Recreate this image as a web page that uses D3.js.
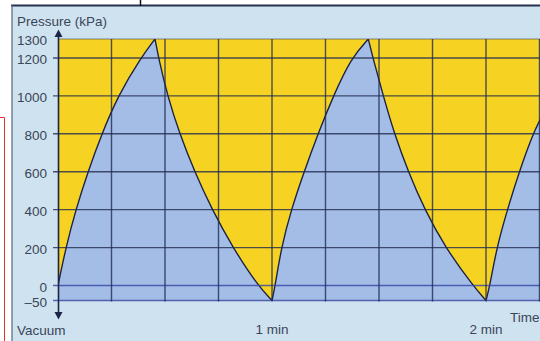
<!DOCTYPE html>
<html><head><meta charset="utf-8">
<script src="https://cdn.jsdelivr.net/npm/d3@7"></script>
<style>html,body{margin:0;padding:0;background:#fff;overflow:hidden}</style>
</head><body><svg id="c" width="540" height="341"></svg>
<script>
// ---- data ----
const timeSec = [0, 2.2, 5.0, 8.4, 12.3, 16.8, 23.2, 27.2,
  28.2, 30.7, 34.1, 38.3, 43.2, 49.0, 56.0, 60,
  60.9, 62.6, 65.4, 69.0, 72.9, 77.2, 82.2, 87.0,
  88.3, 91.2, 94.3, 98.2, 102.8, 108.6, 116.3, 120,
  121.1, 123.0, 126.0, 129.3, 133.2, 135.1, 137.3];
const pressureKPa = [0, 200, 400, 600, 800, 1000, 1200, 1300,
  1200, 1000, 800, 600, 400, 200, 0, -50,
  0, 200, 400, 600, 800, 1000, 1200, 1300,
  1200, 1000, 800, 600, 400, 200, 0, -50,
  0, 200, 400, 600, 800, 873, 950];
const yTicks = [-50, 0, 200, 400, 600, 800, 1000, 1200, 1300];
const yTickLabels = ["–50", "0", "200", "400", "600", "800", "1000", "1200", "1300"];
const xGridSec = [15, 30, 45, 60, 75, 90, 105, 120, 135];
const xLabelTimes = [60, 120];
const xLabelTexts = ["1 min", "2 min"];

// ---- layout ----
const W = 540, H = 341;
const L = 58, R = 540, T = 39, B = 300.5;
const svg = d3.select("#c");
const x = d3.scaleLinear().domain([0, 120]).range([L, 486]);
const y = d3.scaleLinear().domain([-50, 0, 1300]).range([B, 285.5, T]);
const font = "'Liberation Sans', Arial, sans-serif";
const textCol = "#3a4558";

// page background / frame
svg.append("rect").attr("x", 12).attr("y", 6).attr("width", W - 12).attr("height", H - 6).attr("fill", "#cfe2ef");
svg.append("line").attr("x1", 11).attr("x2", W).attr("y1", 5.5).attr("y2", 5.5).attr("stroke", "#27304d").attr("stroke-width", 2);
svg.append("line").attr("x1", 12).attr("x2", 12).attr("y1", 5).attr("y2", H).attr("stroke", "#55657e").attr("stroke-width", 1.2);
svg.append("line").attr("x1", 140.5).attr("x2", 140.5).attr("y1", 0).attr("y2", 6).attr("stroke", "#111").attr("stroke-width", 1.5);
svg.append("path").attr("d", "M0,117.5H4.5V341").attr("fill", "none").attr("stroke", "#e03030").attr("stroke-width", 1);

// clip
svg.append("clipPath").attr("id", "plot").append("rect")
  .attr("x", L).attr("y", T).attr("width", R - L).attr("height", B - T);

const g = svg.append("g").attr("clip-path", "url(#plot)");
g.append("rect").attr("x", L).attr("y", T).attr("width", R - L).attr("height", B - T).attr("fill", "#f6d322");

// split into monotone segments at peaks/troughs
const pts = timeSec.map((t, i) => [t, pressureKPa[i]]);
const segs = []; let start = 0;
for (let i = 1; i < pts.length - 1; i++) {
  const d1 = pts[i][1] - pts[i - 1][1], d2 = pts[i + 1][1] - pts[i][1];
  if (d1 * d2 < 0) { segs.push(pts.slice(start, i + 1)); start = i; }
}
segs.push(pts.slice(start));
const line = d3.line().x(d => x(d[0])).y(d => y(d[1])).curve(d3.curveBasis);
const curvePath = segs.map((s, i) => { const p = line(s); return i ? p.replace(/^M/, "L") : p; }).join("");
const tLast = timeSec[timeSec.length - 1];
g.append("path")
  .attr("d", curvePath + `L${x(tLast)},${y(-50)}L${x(0)},${y(-50)}Z`)
  .attr("fill", "#a3bde6");

// grid
const grid = svg.append("g");
grid.selectAll("line.h").data(yTicks).join("line")
  .attr("x1", d => d === 1300 ? L : 53).attr("x2", R)
  .attr("y1", d => y(d)).attr("y2", d => y(d))
  .attr("stroke", d => (d === 0 || d === -50) ? "#3545a5" : "#222a50")
  .attr("stroke-opacity", d => d === 1300 ? 0.35 : 0.8)
  .attr("stroke-width", 1.4);
grid.selectAll("line.v").data(xGridSec).join("line")
  .attr("x1", d => x(d)).attr("x2", d => x(d))
  .attr("y1", T).attr("y2", B + 1)
  .attr("stroke", "#222a50").attr("stroke-opacity", 0.8).attr("stroke-width", 1.4);

// curve
g.append("path").attr("d", curvePath).attr("fill", "none")
  .attr("stroke", "#1c2447").attr("stroke-width", 1.4).attr("stroke-linejoin", "miter");

// axis with arrows
svg.append("line").attr("x1", L + 0.5).attr("x2", L + 0.5).attr("y1", 33).attr("y2", 316)
  .attr("stroke", "#1c2447").attr("stroke-width", 1.6);
svg.append("path").attr("d", `M${L + 0.5},29.5L${L - 3.5},37L${L + 4.5},37Z`).attr("fill", "#1c2447");
svg.append("path").attr("d", `M${L + 0.5},319.5L${L - 3.5},312L${L + 4.5},312Z`).attr("fill", "#1c2447");

// labels
const lab = svg.append("g").attr("font-family", font).attr("font-size", 13.5).attr("fill", textCol);
lab.selectAll("text.y").data(yTicks).join("text")
  .attr("x", 47).attr("y", d => y(d) + 6).attr("text-anchor", "end")
  .text((d, i) => yTickLabels[i]);
lab.append("text").attr("x", 17).attr("y", 25.5).text("Pressure (kPa)");
lab.append("text").attr("x", 17).attr("y", 335).text("Vacuum");
lab.selectAll("text.x").data(xLabelTimes).join("text")
  .attr("x", d => x(d)).attr("y", 334).attr("text-anchor", "middle")
  .text((d, i) => xLabelTexts[i]);
lab.append("text").attr("x", 510).attr("y", 322).text("Time");
</script></body></html>
